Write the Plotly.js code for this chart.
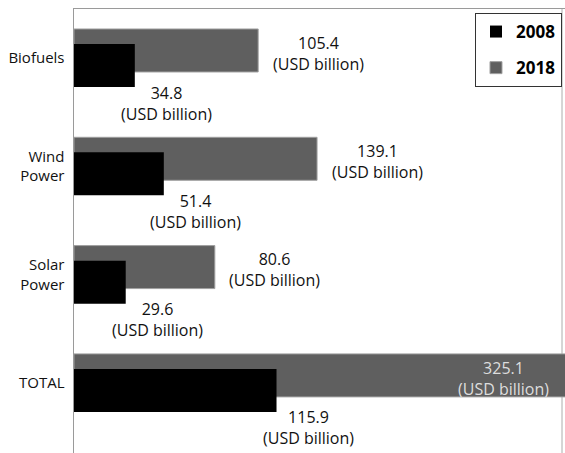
<!DOCTYPE html>
<html>
<head>
<meta charset="utf-8">
<script src="https://cdn.plot.ly/plotly-3.0.1.min.js"></script>
<style>html,body{margin:0;padding:0;background:#fff;}#chart{width:565px;height:453px;}</style>
</head>
<body>
<div id="chart"></div>
<script>
// ---- data ----
const categories = ["Biofuels", "Wind<br>Power", "Solar<br>Power", "TOTAL"];
const values2008 = [34.8, 51.4, 29.6, 115.9];
const values2018 = [105.4, 139.1, 80.6, 325.1];
const seriesNames = ["2008", "2018"];
const unitLabel = "(USD billion)";

// ---- layout constants ----
const XMAX = 281;
const FONT = "Open Sans, Noto Sans, sans-serif";

const trace2018 = {
  type: "bar", orientation: "h", name: seriesNames[1],
  y: categories, x: values2018,
  width: 0.397, offset: -0.268,
  marker: {color: "#5f5f5f", line: {color: "#a0a0a0", width: 1}},
  legendrank: 2, legendgroup: "b", hoverinfo: "x"
};
const trace2008 = {
  type: "bar", orientation: "h", name: seriesNames[0],
  y: categories, x: values2008,
  width: 0.397, offset: -0.129,
  marker: {color: "#000000"},
  legendrank: 1, legendgroup: "a", hoverinfo: "x"
};

const annotations = [];
categories.forEach((c, i) => {
  const v18 = values2018[i];
  if (v18 > XMAX) {
    annotations.push({
      x: XMAX, y: c, xref: "x", yref: "y", xanchor: "right", yanchor: "middle",
      xshift: -14, yshift: 4, showarrow: false, align: "center",
      text: v18.toFixed(1) + "<br>" + unitLabel,
      font: {family: FONT, size: 16, color: "#dddddd"}
    });
  } else {
    annotations.push({
      x: v18, y: c, xref: "x", yref: "y", xanchor: "center", yanchor: "middle",
      xshift: 60, yshift: 5, showarrow: false, align: "center",
      text: v18.toFixed(1) + "<br>" + unitLabel,
      font: {family: FONT, size: 16, color: "#111111"}
    });
  }
  const v08 = values2008[i];
  annotations.push({
    x: v08, y: c, xref: "x", yref: "y", xanchor: "center", yanchor: "middle",
    xshift: 32, yshift: -45, showarrow: false, align: "center",
    text: v08.toFixed(1) + "<br>" + unitLabel,
    font: {family: FONT, size: 16, color: "#111111"}
  });
});

const layout = {
  width: 565, height: 453,
  margin: {l: 74, r: 0, t: 9, b: 0, pad: 0},
  paper_bgcolor: "#ffffff", plot_bgcolor: "#ffffff",
  barmode: "overlay",
  font: {family: FONT, size: 15, color: "#111111"},
  xaxis: {
    range: [0, XMAX], side: "top", showline: true, linecolor: "#9a9a9a", linewidth: 1.5,
    showgrid: false, zeroline: false, showticklabels: false, ticks: ""
  },
  yaxis: {
    type: "category", categoryarray: categories, range: [3.647, -0.4525],
    showline: true, linecolor: "#9a9a9a", linewidth: 1.5,
    showgrid: false, zeroline: false, ticks: "", ticklabelstandoff: 5,
    tickfont: {family: FONT, size: 15, color: "#111111"}
  },
  shapes: [{
    type: "line", xref: "paper", yref: "paper", x0: 0.9939, x1: 0.9939, y0: 0, y1: 1,
    line: {color: "#c8c8c8", width: 1.5}, layer: "below"
  }],
  showlegend: true,
  legend: {
    x: 0.8167, y: 0.991, xanchor: "left", yanchor: "top",
    bgcolor: "#ffffff", bordercolor: "#333333", borderwidth: 1,
    font: {family: FONT, size: 17, color: "#000000", weight: "bold"},
    tracegroupgap: 11, traceorder: "grouped", itemwidth: 30
  },
  annotations: annotations
};

Plotly.newPlot("chart", [trace2018, trace2008], layout, {displayModeBar: false, staticPlot: true});
</script>
</body>
</html>
